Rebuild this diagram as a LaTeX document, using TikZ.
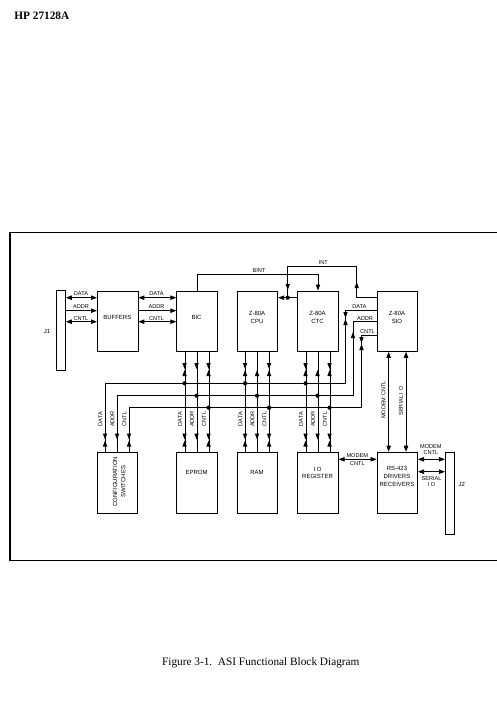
\documentclass[tikz,border=0pt]{standalone}
\usepackage{fontspec}
\setmainfont{Liberation Serif}
\newfontfamily\diagsf{Liberation Sans}
\usetikzlibrary{arrows.meta}
\tikzset{
  tridown/.pic={\fill (0,0) -- (-2.2,-6) -- (2.2,-6) -- cycle;},
  triup/.pic={\fill (0,0) -- (-2.2,6) -- (2.2,6) -- cycle;},
}
\newcommand\hourg[2]{\pic at (#1,#2-0.5) {tridown}; \pic at (#1,#2+0.5) {triup};}
\begin{document}
\begin{tikzpicture}[x=1pt,y=-1pt,line width=0.75pt,
  blk/.style={draw, line width=0.8pt, minimum width=40.5pt, minimum height=60.5pt, inner sep=0pt, anchor=north west},
  blkL/.style={blk, minimum height=61pt},
  conn/.style={draw, line width=0.8pt, minimum width=9pt, inner sep=0pt, anchor=north west},
  tip/.tip={Triangle[width=4.4pt,length=6pt]},
  dbl/.style={tip-tip},
  sgl/.style={-tip},
  btxt/.style={font=\diagsf\fontsize{6}{7.7}\selectfont, align=center, inner sep=0pt},
  ltxt/.style={font=\diagsf\fontsize{5.6}{6}\selectfont, align=center, inner sep=0pt},
  rtxt/.style={ltxt, rotate=90},
  frame/.style={line width=1.3pt},
]
\useasboundingbox (0,0) rectangle (496,723);

% header and caption
\node[anchor=west, inner sep=0pt, font=\bfseries\fontsize{11.3}{13}\selectfont] (hdr) at (14,16) {HP 27128A};
\node[inner sep=0pt, font=\fontsize{11.3}{13}\selectfont] (cap) at (260.8,662.7) {Figure 3-1.\ \ ASI Functional Block Diagram};

% frame
\draw[frame] (499,232.7) -- (10,232.7) -- (10,560.5) -- (499,560.5);

% blocks
\node[conn, minimum height=80pt] (j1) at (56,290) {};
\node[blk] (buf) at (97,290.5) {};
\node[blk] (bic) at (176.3,290.5) {};
\node[blk] (cpu) at (236.8,290.5) {};
\node[blk] (ctc) at (297.3,290.5) {};
\node[blk] (sio) at (376.7,290.5) {};
\node[blkL] (cfg) at (96.8,451.7) {};
\node[blkL] (eprom) at (176.3,451.7) {};
\node[blkL] (ram) at (236.8,451.7) {};
\node[blkL] (ioreg) at (297.3,451.7) {};
\node[blkL] (rs) at (376.7,451.7) {};
\node[conn, minimum height=82.3pt] (j2) at (445,451.7) {};

% block texts
\node[btxt] (j1t) at (47,331) {J1};
\node[btxt] (j2t) at (461.7,484.3) {J2};
\node[btxt] (buft) at (117.25,317.7) {BUFFERS};
\node[btxt] (bict) at (196.55,317.7) {BIC};
\node[btxt] (cput) at (257.05,317.2) {Z-80A\\CPU};
\node[btxt] (ctct) at (317.55,317.2) {Z-80A\\CTC};
\node[btxt] (siot) at (396.95,317.2) {Z-80A\\SIO};
\node[btxt] (epromt) at (196.55,472.3) {EPROM};
\node[btxt] (ramt) at (257.05,472.2) {RAM};
\node[btxt] (iot) at (317.55,472.9) {I O\\REGISTER};
\node[btxt, font=\diagsf\fontsize{6}{8}\selectfont] (rst) at (396.95,476.7) {RS-423\\DRIVERS\\RECEIVERS};
\node[btxt, rotate=90, font=\diagsf\fontsize{6}{8.3}\selectfont] (cfgt) at (119.2,481.7) {CONFIGURATION\\SWITCHES};

% J1 - BUFFERS - BIC
\draw[dbl] (j1.east |- 0,297.7) -- (buf.west |- 0,297.7);
\draw[sgl] (j1.east |- 0,310.7) -- (buf.west |- 0,310.7);
\draw[dbl] (j1.east |- 0,321.7) -- (buf.west |- 0,321.7);
\draw[dbl] (buf.east |- 0,297.7) -- (bic.west |- 0,297.7);
\draw[sgl] (buf.east |- 0,310.7) -- (bic.west |- 0,310.7);
\draw[dbl] (buf.east |- 0,321.7) -- (bic.west |- 0,321.7);
\node[ltxt] (l1) at (81,294) {DATA};
\node[ltxt] (l2) at (81,306.9) {ADDR};
\node[ltxt] (l3) at (81,318.5) {CNTL};
\node[ltxt] (l4) at (156.5,294) {DATA};
\node[ltxt] (l5) at (156.5,306.9) {ADDR};
\node[ltxt] (l6) at (156.5,318.5) {CNTL};

% BINT and INT
\draw[sgl] (bic.north) |- (ctc.north |- 0,274.3) -- (ctc.north);
\node[ltxt] (bint) at (259,270.7) {BINT};
\draw (sio.west |- 0,297.7) -| (356.7,266.7) -| (287.7,297.7);
\draw[sgl] (ctc.west |- 0,297.7) -- (cpu.east |- 0,297.7);
\fill (287.7,297.7) circle (2.1pt);
\pic at (356.7,282) {triup};
\pic at (287.7,290) {tridown};
\node[ltxt] (int) at (323.3,262.3) {INT};

% verticals between top and bottom rows
\foreach \c/\d in {bic/eprom, cpu/ram, ctc/ioreg} {
  \foreach \s in {-12,0,12} {
    \draw ([xshift=\s pt]\c.south) -- ([xshift=\s pt]\d.north);
  }
}

% buses
\draw ([xshift=-12pt]cfg.north) |- (345.5,383.3) |- (sio.west |- 0,310);
\draw (cfg.north) |- (353,395.7) |- (sio.west |- 0,321.7);
\draw ([xshift=12pt]cfg.north) |- (361.5,407.7) |- (sio.west |- 0,335);
\foreach \x in {184.55,245.05,305.55} \fill (\x,383.3) circle (2.1pt);
\foreach \x in {196.55,257.05,317.55} \fill (\x,395.7) circle (2.1pt);
\foreach \x in {208.55,269.05,329.55} \fill (\x,407.7) circle (2.1pt);

% SIO bus labels and arrows
\node[ltxt] (sd) at (359.3,306.7) {DATA};
\node[ltxt] (sa) at (365,318.9) {ADDR};
\node[ltxt] (sc) at (367.5,331.7) {CNTL};
\hourg{345.5}{318.5}
\pic at (353,332) {triup};
\hourg{361.5}{343.5}

% arrows on top-row verticals
\hourg{184.55}{369.5} \pic at (196.55,369) {tridown}; \hourg{208.55}{369.5}
\hourg{245.05}{369.5} \pic at (257.05,370) {triup}; \hourg{269.05}{369.5}
\hourg{305.55}{369.5} \pic at (317.55,370) {triup}; \hourg{329.55}{369.5}

% arrows on bottom-row verticals
\foreach \x in {105.05,184.55,245.05,305.55} {\hourg{\x}{440} \hourg{\x+24}{440} \pic at (\x+12,439.5) {tridown};}

% rotated labels
\foreach \x in {105.05,184.55,245.05,305.55} {
  \node[rtxt] at (\x-4.6,419) {DATA};
  \node[rtxt] at (\x+12-4.6,419) {ADDR};
  \node[rtxt] at (\x+24-4.6,419) {CNTL};
}

% SIO - RS-423
\draw[dbl] ([xshift=-8.7pt]sio.south) -- ([xshift=-8.7pt]rs.north);
\draw[dbl] ([xshift=8.7pt]sio.south) -- ([xshift=8.7pt]rs.north);
\node[rtxt] (mc) at (383.4,400) {MODEM CNTL};
\node[rtxt] (sr) at (400.9,401) {SERIAL I O};

% IO reg - RS-423 - J2
\draw[dbl] (ioreg.east |- 0,459.3) -- (rs.west |- 0,459.3);
\node[ltxt] (m1) at (357.3,455.3) {MODEM};
\node[ltxt] (m2) at (357.3,463.3) {CNTL};
\draw[dbl] (rs.east |- 0,459.3) -- (j2.west |- 0,459.3);
\draw[dbl] (rs.east |- 0,471.7) -- (j2.west |- 0,471.7);
\node[ltxt] (m3) at (430.9,449.7) {MODEM\\CNTL};
\node[ltxt] (s3) at (431.5,482) {SERIAL\\I O};
\end{tikzpicture}
\end{document}
